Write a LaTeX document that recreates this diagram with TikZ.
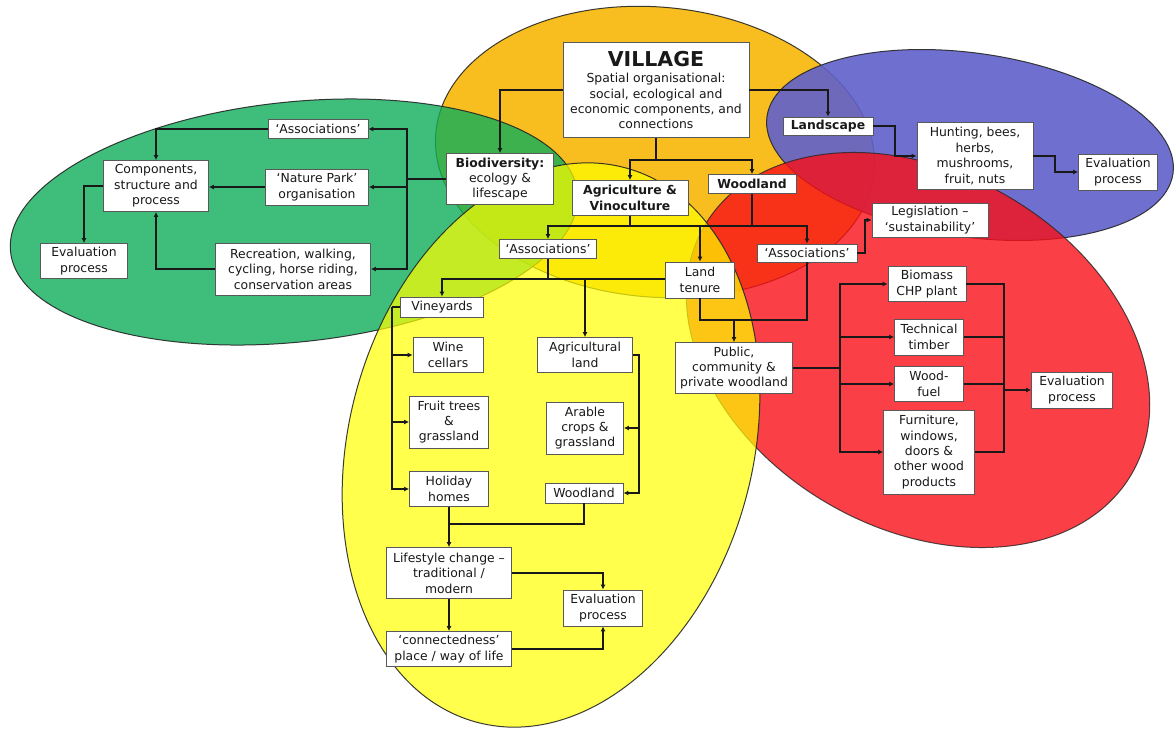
\documentclass[tikz,border=0pt]{standalone}
\usepackage{fontspec}
\setmainfont{DejaVu Sans}
\usetikzlibrary{arrows.meta}
\definecolor{cOrange}{RGB}{248,183,7}
\definecolor{cGreen}{RGB}{14,174,89}
\definecolor{cBlue}{RGB}{96,96,203}
\definecolor{cRed}{RGB}{249,16,24}
\definecolor{cYellow}{RGB}{255,255,0}
\tikzset{
 box/.style={draw=black!65, line width=0.8pt, fill=white, align=center, inner sep=0pt, font=\fontsize{12.4}{15.4}\selectfont, text=black!90},
 bbox/.style={box, font=\fontsize{12.4}{15.4}\selectfont\bfseries},
 conn/.style={line width=2pt, black!90},
 arr/.style={conn, -{Latex[length=5pt,width=5pt]}},
 ell/.style={line width=1pt, draw=black!85}
}
\begin{document}
\begin{tikzpicture}[x=1pt,y=-1pt]
\path[use as bounding box] (0,0) rectangle (1176,729);
\fill[white] (0,0) rectangle (1176,729);
% ellipses
\path[ell, fill=cOrange, fill opacity=.9, draw opacity=.9, rotate around={-5:(655,152)}] (655,152) ellipse [x radius=220, y radius=145];
\path[ell, fill=cGreen, fill opacity=.8, draw opacity=.9, rotate around={6:(294,222)}] (294,222) ellipse [x radius=285, y radius=120];
\path[ell, fill=cBlue, fill opacity=.9, draw opacity=.9, rotate around={-8:(970,145)}] (970,145) ellipse [x radius=205, y radius=92];
\path[ell, fill=cRed, fill opacity=.8, draw opacity=.8, rotate around={-30:(918,350)}] (918,350) ellipse [x radius=247, y radius=178];
\path[ell, fill=cYellow, fill opacity=.7, draw opacity=.9, rotate around={-15:(551,445)}] (551,445) ellipse [x radius=202, y radius=287];
% nodes
\node[box, minimum width=186pt, minimum height=95pt] (village) at (656,90) {{\fontsize{20.5}{24}\selectfont\bfseries VILLAGE}\\[1pt]Spatial organisational:\\social, ecological and\\economic components, and\\connections};
\node[box, minimum width=107pt, minimum height=51pt] (bio) at (500,179) {{\bfseries Biodiversity:}\\ecology \&\\lifescape};
\node[bbox, minimum width=116pt, minimum height=35pt] (agri) at (630,198) {Agriculture \&\\Vinoculture};
\node[bbox, minimum width=88pt, minimum height=19pt] (wood) at (752,184) {Woodland};
\node[bbox, minimum width=90pt, minimum height=18pt] (land) at (828,126) {Landscape};
\node[box, minimum width=116pt, minimum height=67pt] (hunt) at (975,156) {Hunting, bees,\\herbs,\\mushrooms,\\fruit, nuts};
\node[box, minimum width=79pt, minimum height=36pt] (evalB) at (1118,172) {Evaluation\\process};
\node[box, minimum width=116pt, minimum height=34pt] (legis) at (930,220) {Legislation –\\‘sustainability’};
\node[box, minimum width=100pt, minimum height=18pt] (assocR) at (807,253) {‘Associations’};
\node[box, minimum width=97pt, minimum height=19pt] (assocL) at (548,249) {‘Associations’};
\node[box, minimum width=69pt, minimum height=36pt] (tenure) at (700,280) {Land\\tenure};
\node[box, minimum width=117pt, minimum height=51pt] (public) at (734,368) {Public,\\community \&\\private woodland};
\node[box, minimum width=78pt, minimum height=35pt] (biomass) at (927,284) {Biomass\\CHP plant};
\node[box, minimum width=69pt, minimum height=36pt] (tech) at (929,337) {Technical\\timber};
\node[box, minimum width=69pt, minimum height=35pt] (fuel) at (929,384) {Wood-\\fuel};
\node[box, minimum width=91pt, minimum height=84pt] (furn) at (929,452) {Furniture,\\windows,\\doors \&\\other wood\\products};
\node[box, minimum width=81pt, minimum height=36pt] (evalR) at (1072,390) {Evaluation\\process};
\node[box, minimum width=100pt, minimum height=19pt] (assocG) at (318,129) {‘Associations’};
\node[box, minimum width=105pt, minimum height=51pt] (comp) at (156,186) {Components,\\structure and\\process};
\node[box, minimum width=103pt, minimum height=36pt] (nature) at (317,187) {‘Nature Park’\\organisation};
\node[box, minimum width=87pt, minimum height=35pt] (evalG) at (84,261) {Evaluation\\process};
\node[box, minimum width=155pt, minimum height=52pt] (recr) at (293,269) {Recreation, walking,\\cycling, horse riding,\\conservation areas};
\node[box, minimum width=83pt, minimum height=20pt] (vine) at (442,307) {Vineyards};
\node[box, minimum width=70pt, minimum height=35pt] (wine) at (448,355) {Wine\\cellars};
\node[box, minimum width=79pt, minimum height=52pt] (fruit) at (449,422) {Fruit trees\\\&\\grassland};
\node[box, minimum width=79pt, minimum height=35pt] (holiday) at (449,489) {Holiday\\homes};
\node[box, minimum width=95pt, minimum height=35pt] (agland) at (585,355) {Agricultural\\land};
\node[box, minimum width=77pt, minimum height=52pt] (arable) at (585,428) {Arable\\crops \&\\grassland};
\node[box, minimum width=78pt, minimum height=20pt] (woodS) at (584,493) {Woodland};
\node[box, minimum width=125pt, minimum height=51pt] (life) at (449,573) {Lifestyle change –\\traditional /\\modern};
\node[box, minimum width=79pt, minimum height=36pt] (evalY) at (603,608) {Evaluation\\process};
\node[box, minimum width=125pt, minimum height=35pt] (connect) at (449,649) {‘connectedness’\\place / way of life};
% connectors: village
\draw[arr] (village.west) -| (bio.north);
\draw[arr] (village.east) -| (land.north);
\coordinate (vj) at (656,160);
\draw[conn] (village.south) -- (vj);
\draw[arr] (vj) -| (agri.north);
\draw[arr] (vj) -| (wood.north);
% bus below agriculture / woodland
\coordinate (b1) at (0,226);
\draw[arr] (agri.south) -- (agri.south |- b1) -| (assocL.north);
\draw[arr] (wood.south) -- (wood.south |- b1) -| (assocR.north);
\draw[conn] (agri.south |- b1) -- (wood.south |- b1);
\draw[arr] (tenure.north |- b1) -- (tenure.north);
\draw[arr] (assocR.east) -- ++(8,0) |- (legis.west);
% bus below left associations
\coordinate (b2) at (0,279);
\draw[arr] (assocL.south) -- (assocL.south |- b2) -| (vine.north);
\draw[arr] (assocL.south |- b2) -| (agland.north);
\draw[conn] (assocL.south |- b2) -- (tenure.west |- b2);
% tenure and associations to public woodland
\coordinate (b3) at (0,320);
\draw[conn] (tenure.south) |- (assocR.south |- b3) -- (assocR.south);
\draw[arr] (public.north |- b3) -- (public.north);
% public woodland to products
\coordinate (b4) at (840,0);
\draw[conn] (public.east) -- (public.east -| b4);
\draw[arr] (public.east -| b4) |- (biomass.west);
\draw[arr] (public.east -| b4) |- (furn.west);
\draw[arr] (tech.west -| b4) -- (tech.west);
\draw[arr] (fuel.west -| b4) -- (fuel.west);
% products to evaluation
\coordinate (b5) at (1004,0);
\draw[conn] (biomass.east) -| (furn.east -| b5) -- (furn.east);
\draw[conn] (tech.east) -- (tech.east -| b5);
\draw[conn] (fuel.east) -- (fuel.east -| b5);
\draw[arr] (evalR.west -| b5) -- (evalR.west);
% landscape
\draw[arr] (land.east) -- ++(22,0) |- (hunt.west);
\draw[arr] (hunt.east) -- ++(22,0) |- (evalB.west);
% biodiversity
\coordinate (b6) at (407,0);
\draw[conn] (bio.west) -- (bio.west -| b6);
\draw[arr] (bio.west -| b6) |- (assocG.east);
\draw[arr] (bio.west -| b6) |- (recr.east);
\draw[arr] (nature.east -| b6) -- (nature.east);
\draw[arr] (assocG.west) -| (comp.north);
\draw[arr] (nature.west) -- (nature.west -| comp.east);
\draw[arr] (recr.west) -| (comp.south);
\draw[arr] (comp.west) -| (evalG.north);
% vineyards
\coordinate (b7) at (392,0);
\draw[conn] (vine.west) -- (vine.west -| b7);
\draw[arr] (vine.west -| b7) |- (holiday.west);
\draw[arr] (wine.west -| b7) -- (wine.west);
\draw[arr] (fruit.west -| b7) -- (fruit.west);
% agricultural land
\coordinate (b8) at (639,0);
\draw[arr] (agland.east) -| (woodS.east -| b8) -- (woodS.east);
\draw[arr] (arable.east -| b8) -- (arable.east);
% lifestyle
\coordinate (j1) at (0,524);
\draw[arr] (holiday.south) -- (holiday.south |- life.north);
\draw[conn] (woodS.south) |- (holiday.south |- j1);
\draw[arr] (life.east) -| (evalY.north);
\draw[arr] (life.south) -- (life.south |- connect.north);
\draw[arr] (connect.east) -| (evalY.south);
\end{tikzpicture}
\end{document}
